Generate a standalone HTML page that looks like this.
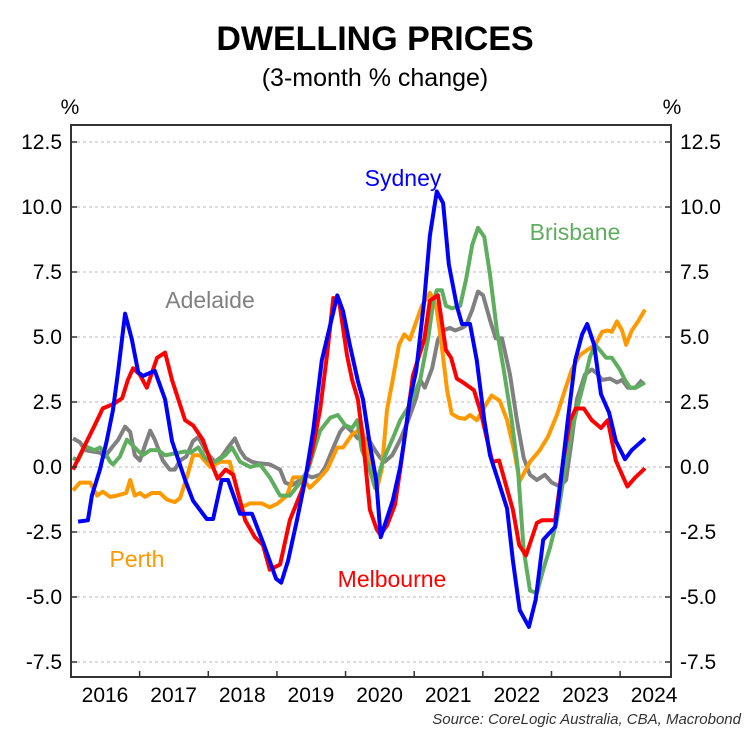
<!DOCTYPE html>
<html><head><meta charset="utf-8"><style>
body{margin:0;background:#fff;width:751px;height:742px;overflow:hidden;font-family:"Liberation Sans",sans-serif}
</style></head><body>
<svg id="chart" width="751" height="742" font-family="Liberation Sans, sans-serif">
<text x="375" y="50" text-anchor="middle" font-size="34" font-weight="bold">DWELLING PRICES</text>
<text x="375" y="86" text-anchor="middle" font-size="25">(3-month % change)</text>
<text x="70" y="114" text-anchor="middle" font-size="21">%</text>
<text x="672" y="114" text-anchor="middle" font-size="21">%</text>
<g id="grid"></g><g id="series"></g><g id="axes"></g>
<text x="403" y="186" text-anchor="middle" font-size="23" fill="#0000ff">Sydney</text>
<text x="575" y="240" text-anchor="middle" font-size="23" fill="#5fae5f">Brisbane</text>
<text x="210" y="308" text-anchor="middle" font-size="23" fill="#808080">Adelaide</text>
<text x="137" y="567" text-anchor="middle" font-size="23" fill="#ff9900">Perth</text>
<text x="392" y="587" text-anchor="middle" font-size="23" fill="#ff0000">Melbourne</text>
<text x="741" y="724" text-anchor="end" font-size="15" font-style="italic" fill="#333">Source: CoreLogic Australia, CBA, Macrobond</text>
</svg>
<script>
const yTicks=[12.5,10.0,7.5,5.0,2.5,0.0,-2.5,-5.0,-7.5];
const yTickLabels=["12.5","10.0","7.5","5.0","2.5","0.0","-2.5","-5.0","-7.5"];
const years=["2016","2017","2018","2019","2020","2021","2022","2023","2024"];
const sydneyMonths=[0.9,2.6,3.3,4.7,5.9,7,7.9,9.1,10.3,11.4,12.2,14.3,16.1,17.3,19.6,21,23.4,24.5,26,27.1,29.2,31.3,33.4,35.5,36.4,37.6,39.2,40.6,42,43.5,46.2,47.2,48.4,49.8,50.7,51.9,53,53.8,55.9,57.2,57.9,58.9,60,61.4,62.4,63.6,64.7,65.7,67.1,68,69.4,70.6,71.9,72.9,74.3,75.9,76.9,78.1,79.7,80.9,82.2,84.3,85.3,86.5,87.8,89,89.9,91.1,92.3,93.7,94.9,96.5,97.7,100];
const sydneyValues=[-2.1,-2.05,-1.1,-0.1,1.0,2.2,3.7,5.9,4.9,3.65,3.5,3.7,2.6,1.0,-0.5,-1.3,-2.0,-2.0,-0.5,-0.5,-1.8,-1.8,-3.0,-4.3,-4.45,-3.6,-2.0,-0.5,1.4,4.1,6.6,6.0,4.7,3.3,2.6,0.85,-0.5,-2.7,-1.3,0,1.0,2.6,3.7,6.4,8.9,10.6,10.15,7.8,6.2,5.5,5.5,4.1,1.8,0.45,-0.5,-1.6,-3.6,-5.5,-6.15,-5.1,-2.8,-2.3,-0.5,1.8,4.1,5.1,5.5,4.7,2.8,2.1,1.0,0.3,0.65,1.1];
const melbourneMonths=[0,1.2,3.8,5.2,7.3,8.6,9.6,10.5,11.7,12.9,14.7,16.1,17.3,19.6,21,22.7,24,25.3,26.7,28,30.1,31.8,33.2,34.4,36.2,37.9,40,41.8,43.2,44.4,45.5,46.5,47.9,48.8,49.8,50.7,51.9,53.1,53.7,54.9,56.3,57.2,58.4,59.4,61.4,62.4,63.8,65.2,66.1,67.1,68.2,70.1,71.3,72.4,73.3,74.5,75.5,76.9,78,79.2,81.1,82,84.3,85.7,86.9,87.9,89.3,90.7,92.3,93.5,94.9,96.9,98.3,100];
const melbourneValues=[-0.1,0.45,1.6,2.25,2.45,2.65,3.35,3.8,3.55,3.05,4.2,4.4,3.35,1.8,1.6,1.05,0.25,-0.45,-0.1,-0.3,-2.05,-2.7,-3.0,-3.95,-3.75,-2.05,-0.9,0.6,2.2,4.3,6.5,6.4,4.3,3.35,2.6,1.05,-1.65,-2.4,-2.6,-2.25,-1.45,-0.1,1.8,3.5,4.9,6.4,6.6,4.5,4.2,3.4,3.25,2.95,2.1,1.05,0.2,0.25,-0.55,-1.65,-3.0,-3.4,-2.15,-2.05,-2.05,0.25,1.8,2.25,2.25,1.8,1.5,1.8,0.25,-0.75,-0.4,-0.05];
const brisbaneMonths=[0,0.9,2.1,3.8,4.7,5.6,6.5,7,8.2,9.4,10.8,12.2,13.5,14.9,16.1,17.3,19.6,20.5,21.9,23.1,24.3,25.3,26.6,27.8,29.2,31,32.7,34.4,36.2,37.9,39.7,41.1,43.2,45,46.3,47.6,48.8,49.7,50.5,51.6,52.8,54.2,55.8,57.2,58.9,60.7,62.1,63,63.6,64.5,65.2,66.3,67.7,68.7,69.8,70.8,71.9,72.9,74.1,75.3,76.7,77.8,78.8,79.9,81.1,82.2,83.4,84.6,86,87.2,88.3,89.5,90.4,91.3,91.9,93.2,94.2,95.6,96.5,97.4,98.4,100];
const brisbaneValues=[0.35,0.25,0.8,0.65,0.75,0.55,0.2,0.1,0.4,1.05,0.75,0.45,0.65,0.65,0.45,0.5,0.6,0.55,0.75,0.35,0.15,0.25,0.45,0.75,0.2,0,0.1,-0.4,-1.1,-1.1,-0.6,-0.1,1.4,1.9,2.0,1.6,1.5,1.8,0.65,0.1,-0.8,0.25,1.05,1.8,2.4,3.35,4.95,6.4,6.8,6.8,6.2,6.1,6.2,7.2,8.55,9.2,8.85,7.4,5.25,3.75,1.8,-0.1,-3.2,-4.75,-4.85,-3.95,-3.1,-2.05,-0.1,1.4,2.4,3.4,4.25,4.7,4.55,4.2,4.2,3.75,3.35,3.05,3.05,3.25];
const perthMonths=[0,1.2,3,4.2,5.2,6.5,7.7,9.3,10,10.8,11.7,12.6,13.8,15.2,16.4,17.8,18.7,19.9,21,22.2,24,25.7,27.4,29.5,30.9,33,34.4,35.8,37.4,38.5,40,41.4,42.8,44.4,46.2,47.2,48.8,50.5,51.6,52.3,53.1,54,54.9,55.9,57,57.9,58.9,60.1,61,62.4,63.5,64.3,65.4,66.2,67.3,68.5,69.4,70.6,71.9,73.2,74.6,75.9,77.1,78.1,79.9,81.6,83,84.6,86,87.2,88.6,89.9,91.3,92.5,93.5,94.2,95.1,96,96.7,97.7,98.8,100];
const perthValues=[-0.9,-0.6,-0.6,-1.1,-0.95,-1.15,-1.1,-1.0,-0.5,-1.1,-1.0,-1.15,-1.0,-1.0,-1.25,-1.35,-1.2,-0.4,0.45,0.45,0,0.2,0.2,-1.55,-1.4,-1.4,-1.55,-1.4,-1.1,-0.4,-0.4,-0.8,-0.5,-0.1,0.75,0.75,1.25,1.5,0.45,-0.3,-0.9,-0.05,2.2,3.35,4.7,5.1,4.9,5.65,6.2,6.7,6.2,4.95,2.95,2.05,1.9,1.85,2.0,1.8,2.3,2.75,2.55,1.8,0.65,-0.55,0.2,0.65,1.15,2.0,2.95,3.75,4.3,4.5,4.7,5.2,5.25,5.2,5.6,5.25,4.7,5.25,5.6,6.05];
const adelaideMonths=[0,1.2,2.1,3.3,4.7,5.6,6.8,7.9,9.1,10,10.8,11.7,12.6,13.5,14.3,15.7,16.9,17.8,18.7,19.8,21,21.9,23.1,24,24.8,26,27.1,28.3,29.2,30.1,31.3,32.3,34.4,36.2,37.1,38.3,39.7,40.6,41.8,43.2,44.1,45.5,46.7,47.6,48.8,49.8,51,51.7,52.8,53.7,54.5,55.8,57.2,58.6,60,60.7,61.5,62.8,63.8,64.7,65.9,66.8,68,68.7,69.8,70.8,71.7,72.9,73.9,75,76.4,77.6,78.8,79.9,81.1,82.5,83.7,85.1,86.2,87.2,88.1,89.5,90.7,91.6,92.5,93.9,95.1,96,97,98.3,99.5];
const adelaideValues=[1.1,0.95,0.65,0.6,0.55,0.4,0.75,1.05,1.55,1.35,0.45,0.25,0.85,1.4,1.05,0.25,-0.1,-0.1,0.25,0.4,1.0,1.15,0.65,0.4,0.2,0.4,0.75,1.1,0.65,0.35,0.2,0.15,0.1,-0.1,-0.6,-0.7,-0.5,-0.3,-0.4,-0.3,0,0.75,1.35,1.6,1.35,1.1,1.1,1.05,0.65,0.35,0.2,0.45,1.05,1.8,2.65,3.35,3.05,3.8,4.9,5.25,5.35,5.25,5.35,5.45,6.05,6.75,6.6,5.65,4.95,4.95,3.55,1.8,0.35,-0.3,-0.5,-0.3,-0.6,-0.75,-0.5,1.05,2.6,3.55,3.75,3.6,3.35,3.4,3.25,3.35,3.05,3.05,3.35];

const NS='http://www.w3.org/2000/svg';
const L=71,R=671,T=125,B=677;
const yScale=v=>467-v*26;
const xScale=m=>73+m*5.72;
function mk(tag,attrs,parent){const e=document.createElementNS(NS,tag);for(const k in attrs)e.setAttribute(k,attrs[k]);parent.appendChild(e);return e;}
const grid=document.getElementById('grid'),axes=document.getElementById('axes'),ser=document.getElementById('series');
yTicks.forEach((v,i)=>{
  const y=yScale(v);
  const g=mk('line',{x1:L,x2:R,y1:y,y2:y,stroke:'#bbb','stroke-width':1,'stroke-dasharray':'3,3'},grid);
  
  
  const t1=mk('text',{x:62,y:y+7,'text-anchor':'end','font-size':21},axes);t1.textContent=yTickLabels[i];
  
  
  const t2=mk('text',{x:680,y:y+7,'text-anchor':'start','font-size':21},axes);t2.textContent=yTickLabels[i];
  
  
  mk('line',{x1:L,x2:L+6,y1:y,y2:y,stroke:'#333','stroke-width':1.5},axes);
  mk('line',{x1:R-6,x2:R,y1:y,y2:y,stroke:'#333','stroke-width':1.5},axes);
});
years.forEach((yr,i)=>{
  const x0=xScale(i*12)-2;
  const t=mk('text',{x:x0+34,y:702,'text-anchor':'middle','font-size':21},axes);t.textContent=yr;
  
  
  if(i>0)mk('line',{x1:x0,x2:x0,y1:B,y2:B-6,stroke:'#333','stroke-width':1.5},axes);
});
const fr=mk('rect',{x:L,y:T,width:R-L,height:B-T,fill:'none',stroke:'#333','stroke-width':2},axes);


const seriesList=[
 ['adelaide',adelaideMonths,adelaideValues,'#808080'],
 ['perth',perthMonths,perthValues,'#ff9900'],
 ['brisbane',brisbaneMonths,brisbaneValues,'#5fae5f'],
 ['melbourne',melbourneMonths,melbourneValues,'#ff0000'],
 ['sydney',sydneyMonths,sydneyValues,'#0000ff']];
seriesList.forEach(s=>{
  const pts=s[1].map((m,i)=>xScale(m).toFixed(1)+','+yScale(s[2][i]).toFixed(1)).join(' ');
  const p=mk('polyline',{points:pts,fill:'none',stroke:s[3],'stroke-width':4,'stroke-linejoin':'round'},ser);
  
  
});
</script>
</body></html>
